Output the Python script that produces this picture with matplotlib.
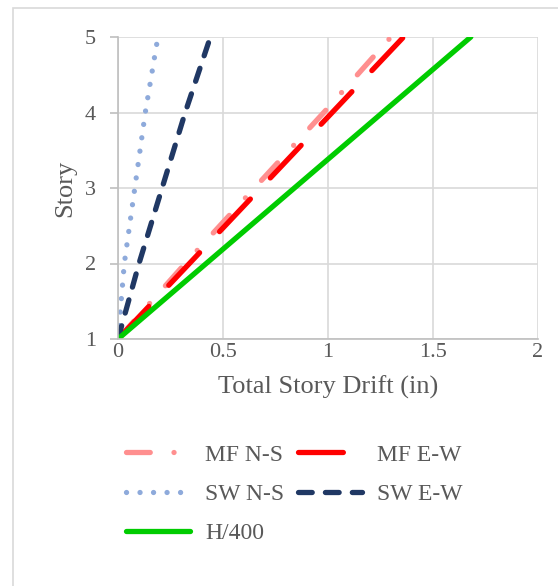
import matplotlib
matplotlib.use("Agg")
import matplotlib.pyplot as plt
from matplotlib.patches import Rectangle

stories = [1, 2, 3, 4, 5]
mf_ns = [0, 0.32, 0.65, 0.98, 1.30]
mf_ew = [0, 0.34, 0.68, 1.02, 1.36]
sw_ns = [0, 0.03, 0.08, 0.13, 0.19]
sw_ew = [0, 0.10, 0.21, 0.32, 0.44]
h400 = [0, 0.42, 0.84, 1.26, 1.68]
xticks = [0, 0.5, 1, 1.5, 2]
xticklabels = ["0", "0.5", "1", "1.5", "2"]
yticks = [1, 2, 3, 4, 5]

plt.rcParams['font.family'] = ['Liberation Serif', 'DejaVu Serif']
txt = '#595959'

fig = plt.figure(figsize=(5.58, 5.86), dpi=100)
fig.patches.append(Rectangle((13/558, -0.1), 1.2, 1 - 8/586 + 0.1, transform=fig.transFigure,
                             fill=False, edgecolor='#d9d9d9', linewidth=1.2))
ax = fig.add_axes([118/558, 1 - 339/586, 420/558, 302/586])

lw = 3.8
l1, = ax.plot(mf_ns, stories, color='#ff8f8f', lw=lw, dashes=(4.5, 4.5, 0.01, 4.5), dash_capstyle='round',
              label='MF N-S')
l2, = ax.plot(mf_ew, stories, color='#ff0000', lw=lw, dashes=(8.5, 5.5), dash_capstyle='round', label='MF E-W')
l3, = ax.plot(sw_ns, stories, color='#8eaadb', lw=lw, dashes=(0.01, 2.55), dash_capstyle='round', label='SW N-S')
l4, = ax.plot(sw_ew, stories, color='#203864', lw=lw, dashes=(2.6, 2.5), dash_capstyle='round', label='SW E-W')
l5, = ax.plot(h400, stories, color='#00cc00', lw=lw, solid_capstyle='round', label='H/400')

ax.set_xlim(0, 2)
ax.set_ylim(1, 5)
ax.set_xticks(xticks)
ax.set_xticklabels(xticklabels)
ax.set_yticks(yticks)
ax.grid(True, color='#d9d9d9', lw=1.2)
ax.set_axisbelow(True)
for s in ['top', 'right']:
    ax.spines[s].set_visible(False)
for s in ['left', 'bottom']:
    ax.spines[s].set_color('#bfbfbf')
    ax.spines[s].set_linewidth(1.2)
ax.tick_params(axis='y', length=6, width=1.2, color='#bfbfbf', labelsize=16, labelcolor=txt, pad=10)
ax.tick_params(axis='x', length=0, labelsize=16, labelcolor=txt, pad=3)
ax.set_xlabel('Total Story Drift (in)', fontsize=19, color=txt, labelpad=10)
ax.set_ylabel('Story', fontsize=19, color=txt, labelpad=6)

handles = [l1, l3, l5, l2, l4]
leg = fig.legend(handles, [h.get_label() for h in handles], loc='upper left',
                 bbox_to_anchor=(126/558, 1 - 444/586), ncol=2, frameon=False,
                 fontsize=17, handlelength=2.7, columnspacing=0.6, labelspacing=0.76,
                 handletextpad=0.64, labelcolor=txt, borderpad=0, borderaxespad=0)

fig.savefig('out.png', dpi=100)
